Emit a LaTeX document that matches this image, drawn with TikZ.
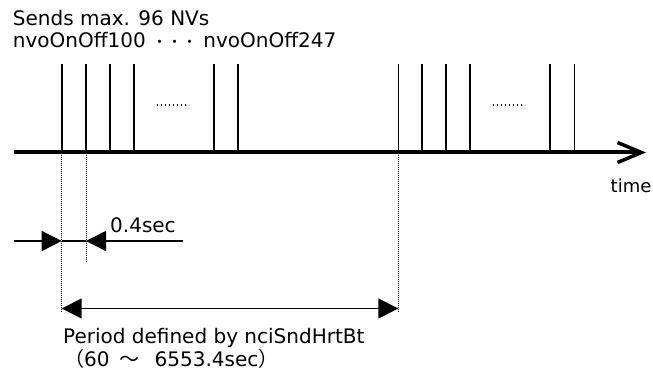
\documentclass[tikz,border=0pt]{standalone}
\usepackage{fontspec}
\setmainfont{DejaVu Sans}
\newfontfamily\cjk{Noto Sans CJK JP}
\usetikzlibrary{arrows.meta}
\tikzset{
  lbl/.style={inner sep=0pt, anchor=base west, font=\fontsize{20}{22}\selectfont},
  pulse/.style={line width=1.6pt},
  guide/.style={line width=0.9pt, dash pattern=on 1pt off 1pt},
  ell/.style={line width=1.2pt, dash pattern=on 1.2pt off 2.8pt},
  dim/.style={line width=1.5pt},
  tri/.tip={Triangle[length=20pt,width=20pt]},
}
\begin{document}
\begin{tikzpicture}[x=1pt,y=-1pt]
\useasboundingbox (0,0) rectangle (653,371);
% axis
\coordinate (a0) at (14,152.5);
\coordinate (a1) at (646,152.5);
\draw[line width=4pt, -{Straight Barb[length=24pt,width=20pt,line width=3.5pt]}] (a0) -- (a1);
\node[lbl, font=\fontsize{18}{20}\selectfont] (time) at (610.5,193) {time};
% pulses group 1
\foreach \x [count=\i] in {61.7,86,110,134,213.7,237.7}{
  \coordinate (pt\i) at (\x,64);
  \coordinate (pb\i) at (\x,152.5);
  \draw[pulse] (pt\i) -- (pb\i);
}
% pulses group 2
\foreach \x [count=\i] in {398.3,422,446,469.7,549.7,574.3}{
  \coordinate (qt\i) at (\x,64);
  \coordinate (qb\i) at (\x,152.5);
  \draw[pulse] (qt\i) -- (qb\i);
}
% ellipses
\coordinate (e1a) at (157,105); \coordinate (e1b) at (189,105);
\coordinate (e2a) at (493,105); \coordinate (e2b) at (525,105);
\draw[ell] (e1a) -- (e1b);
\draw[ell] (e2a) -- (e2b);
% guide lines
\coordinate (g1a) at (61.7,155); \coordinate (g1b) at (61.7,312);
\coordinate (g2a) at (86,155);   \coordinate (g2b) at (86,263);
\coordinate (g3a) at (398.3,155); \coordinate (g3b) at (398.3,312);
\draw[guide] (g1a) -- (g1b);
\draw[guide] (g2a) -- (g2b);
\draw[guide] (g3a) -- (g3b);
% 0.4 sec dimension
\coordinate (d0) at (14,241);
\coordinate (d1) at (61.7,241);
\coordinate (d2) at (86,241);
\coordinate (d3) at (182.7,241);
\draw[dim,-tri] (d0) -- (d1);
\draw[dim] (d1) -- (d2);
\draw[dim,tri-] (d2) -- (d3);
\node[lbl] (t04) at (110,233) {0.4sec};
% period dimension
\coordinate (p0) at (61.7,308.5);
\coordinate (p1) at (398.3,308.5);
\draw[dim,tri-tri] (p0) -- (p1);
\node[lbl] (per) at (63,343) {Period defined by nciSndHrtBt};
\node[lbl] (rng) at (64,366) {{\cjk （}60\hspace{10pt}{\cjk ～}\hspace{15pt}6553.4sec{\cjk ）}};
% top labels
\node[lbl] (snd) at (12.7,26) {Sends max. 96 NVs};
\node[lbl] (nvo) at (12.7,48) {nvoOnOff100 {\cjk\fontsize{15}{15}\selectfont ・・・} nvoOnOff247};
\end{tikzpicture}
\end{document}
